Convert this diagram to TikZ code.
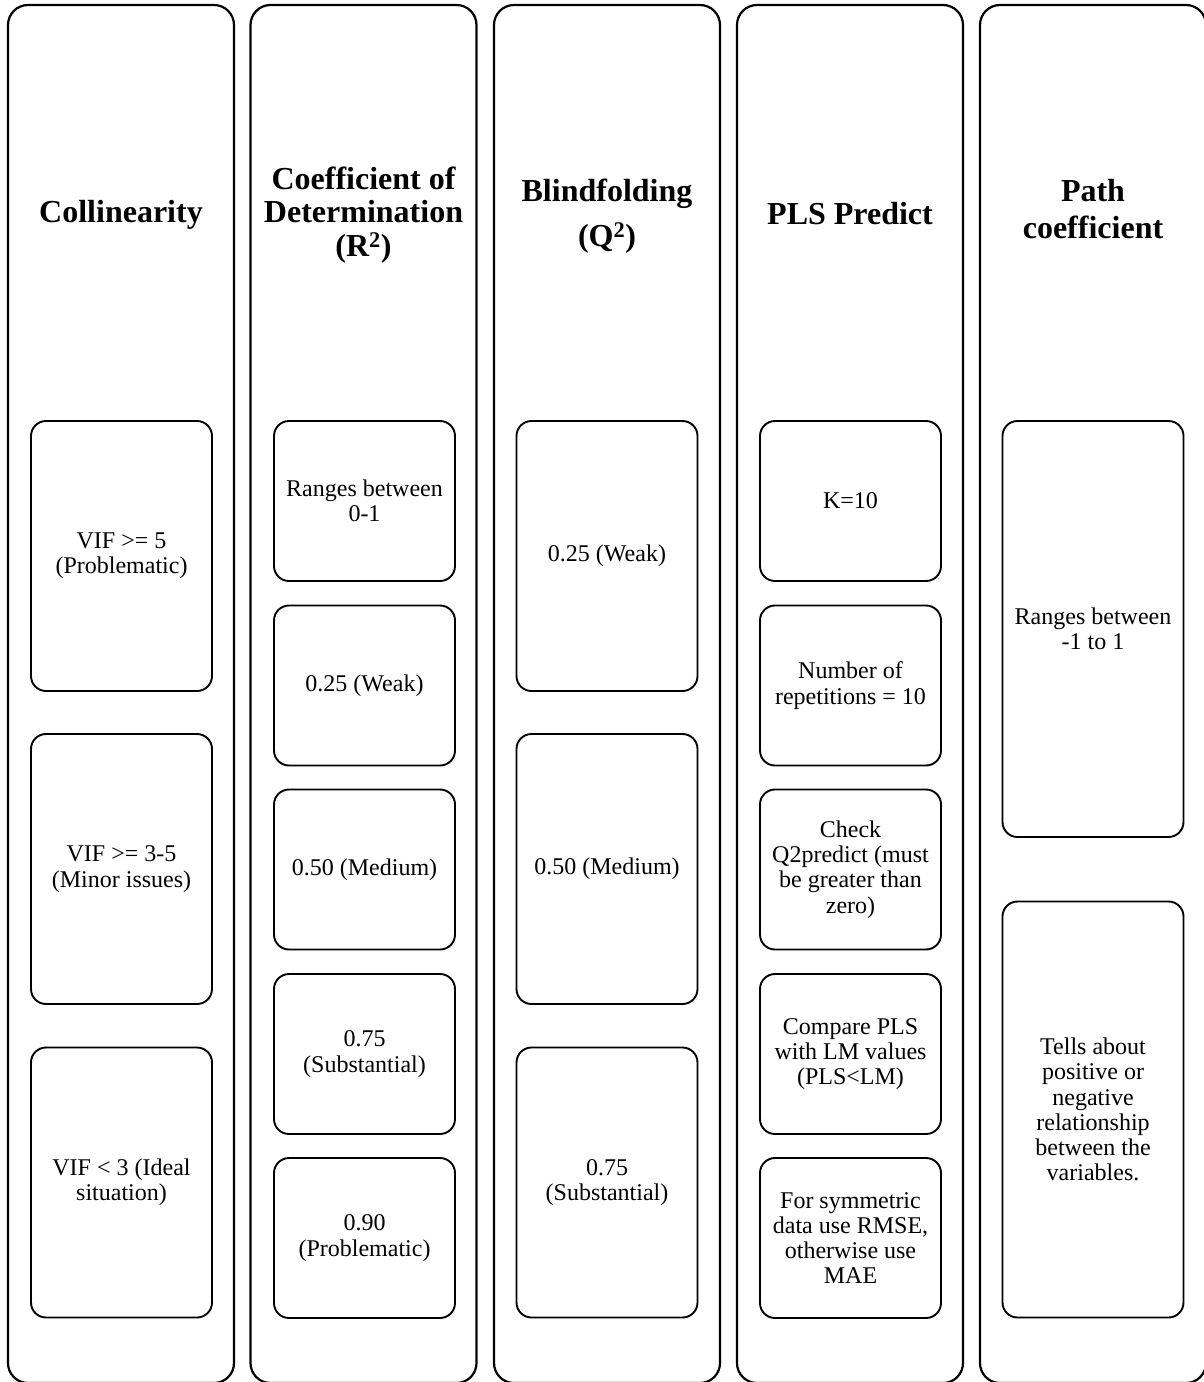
\documentclass[tikz,border=0pt]{standalone}
\usepackage{fontspec}
\setmainfont{Liberation Serif}
\begin{document}
\begin{tikzpicture}[x=1pt,y=-1pt,
  column/.style={draw,line width=2.2pt,rounded corners=20pt,minimum width=226pt,
    minimum height=1378pt,inner sep=0pt},
  heading/.style={align=center,font=\fontsize{32}{33.5}\selectfont\bfseries,inner sep=0pt},
  card/.style={draw,line width=1.9pt,rounded corners=15pt,minimum width=181pt,
    inner sep=0pt,align=center,font=\fontsize{24}{25.2}\selectfont},
  tall/.style={card,minimum height=270pt},
  short/.style={card,minimum height=160pt},
  huge/.style={card,minimum height=416pt}]
\useasboundingbox (0,0) rectangle (1204,1382);

% column frames
\node[column] (col1) at (121,694) {};
\node[column] (col2) at (363.5,694) {};
\node[column] (col3) at (607,694) {};
\node[column] (col4) at (850,694) {};
\node[column] (col5) at (1093,694) {};

% headings
\node[heading] (h1) at (121,215) {Collinearity};
\node[heading] (h2) at (363.5,215) {Coefficient of\\Determination\\(R\textsuperscript{2})};
\node[heading] (h3) at (607,216) {Blindfolding\\[12pt](Q\textsuperscript{2})};
\node[heading] (h4) at (850,214) {PLS Predict};
\node[heading] (h5) at (1093,209) {Path\\[3pt]coefficient};

% collinearity
\node[tall] (c1a) at (121.5,556) {VIF >= 5\\(Problematic)};
\node[tall] (c1b) at (121.5,869) {VIF >= 3-5\\(Minor issues)};
\node[tall] (c1c) at (121.5,1182.5) {VIF < 3 (Ideal\\situation)};

% coefficient of determination
\node[short] (c2a) at (364.5,501) {Ranges between\\0-1};
\node[short] (c2b) at (364.5,685.5) {0.25 (Weak)};
\node[short] (c2c) at (364.5,869.5) {0.50 (Medium)};
\node[short] (c2d) at (364.5,1054) {0.75\\(Substantial)};
\node[short] (c2e) at (364.5,1238) {0.90\\(Problematic)};

% blindfolding
\node[tall] (c3a) at (607,556) {0.25 (Weak)};
\node[tall] (c3b) at (607,869) {0.50 (Medium)};
\node[tall] (c3c) at (607,1182.5) {0.75\\(Substantial)};

% PLS predict
\node[short] (c4a) at (850.5,501) {K=10};
\node[short] (c4b) at (850.5,685.5) {Number of\\repetitions = 10};
\node[short] (c4c) at (850.5,869.5) {Check\\Q2predict (must\\be greater than\\zero)};
\node[short] (c4d) at (850.5,1054) {Compare PLS\\with LM values\\(PLS<LM)};
\node[short] (c4e) at (850.5,1238) {For symmetric\\data use RMSE,\\otherwise use\\MAE};

% path coefficient
\node[huge] (c5a) at (1093,629) {Ranges between\\-1 to 1};
\node[huge] (c5b) at (1093,1109.5) {Tells about\\positive or\\negative\\relationship\\between the\\variables.};
\end{tikzpicture}
\end{document}
